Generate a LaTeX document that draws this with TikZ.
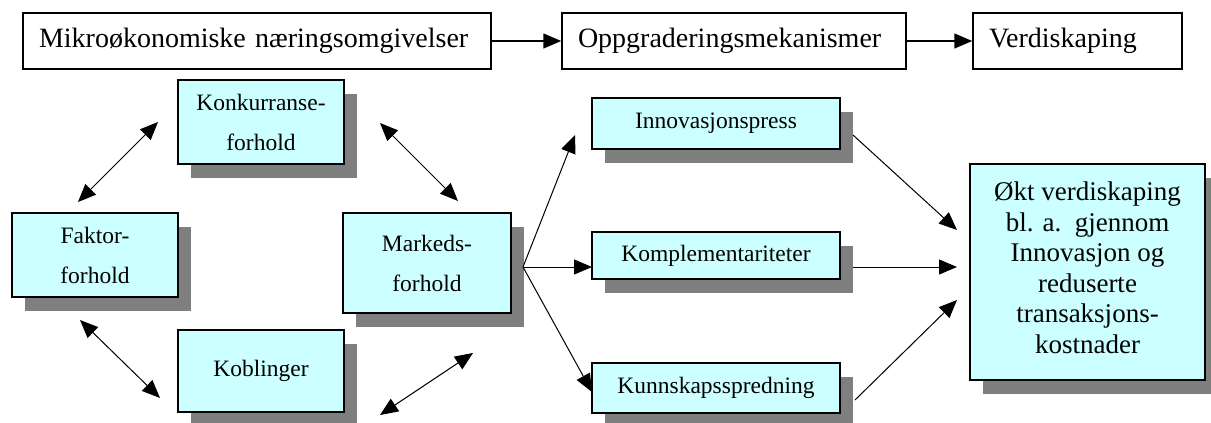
\documentclass[tikz,border=0pt]{standalone}
\usepackage{fontspec}
\setmainfont{Liberation Serif}
\usetikzlibrary{arrows.meta,shadows}
\definecolor{boxfill}{HTML}{CCFFFF}
\definecolor{shadowgray}{HTML}{7F7F7F}
\begin{document}
\begin{tikzpicture}[x=1pt,y=-1pt,
  topbox/.style={draw=black, line width=1.5pt, fill=white, inner ysep=0pt, inner xsep=16pt,
     align=left, minimum height=56pt, font=\fontsize{28}{30}\selectfont},
  cbox/.style={draw=black, line width=1.4pt, fill=boxfill, inner sep=0pt, align=center,
     font=\fontsize{23.5}{40}\selectfont,
     drop shadow={shadow xshift=13pt, shadow yshift=-14pt, opacity=1, fill=shadowgray}},
  bigbox/.style={cbox, font=\fontsize{27}{30.6}\selectfont},
  toparrow/.style={line width=1.5pt, -{Triangle[length=18pt,width=15pt]}},
  dblarrow/.style={line width=1pt, {Triangle[length=18pt,width=15pt]}-{Triangle[length=18pt,width=15pt]}},
  onearrow/.style={line width=1pt, -{Triangle[length=18pt,width=15pt]}}
]
\useasboundingbox (0,0) rectangle (1211,423);
\clip (0,0) rectangle (1211,423);
\fill[white] (0,0) rectangle (1211,423);

% top row
\node[topbox, text width=436pt] (mik) at (257,41) {Mikroøkonomiske næringsomgivelser};
\node[topbox, text width=312pt] (opp) at (734,41) {Oppgraderingsmekanismer};
\node[topbox, text width=177pt] (ver) at (1077.5,41) {Verdiskaping};
\draw[toparrow] (mik) -- (opp);
\draw[toparrow] (opp) -- (ver);

% left cluster
\node[cbox, minimum width=166pt, minimum height=84pt] (kon) at (261,122) {Konkurranse-\\forhold};
\node[cbox, minimum width=166pt, minimum height=84pt] (fak) at (95,255) {Faktor-\\forhold};
\node[cbox, minimum width=168pt, minimum height=100pt] (mar) at (427,263) {Markeds-\\forhold};
\node[cbox, minimum width=166pt, minimum height=82pt] (kob) at (261,371) {Koblinger};

% mechanisms
\node[cbox, minimum width=248pt, minimum height=51pt] (inn) at (716,123.5) {Innovasjonspress};
\node[cbox, minimum width=248pt, minimum height=47pt] (kom) at (716,255.5) {Komplementariteter};
\node[cbox, minimum width=248pt, minimum height=50pt] (kun) at (716,388) {Kunnskapsspredning};

% result
\node[bigbox, minimum width=235pt, minimum height=216pt] (okt) at (1087.5,272)
  {Økt verdiskaping\\bl. a.\ \ gjennom\\Innovasjon og\\reduserte\\transaksjons-\\kostnader\\[-22pt]\mbox{}};

% arrow end points
\coordinate (a1s) at (78,202);   \coordinate (a1e) at (158,122);
\coordinate (a2s) at (380,123);  \coordinate (a2e) at (458,201);
\coordinate (a3s) at (80,320);   \coordinate (a3e) at (160,398);
\coordinate (a4s) at (380,415);  \coordinate (a4e) at (473,353);
\coordinate (fo) at (523,267);
\coordinate (fi) at (575,135);
\coordinate (fk) at (592,267);
\coordinate (fu) at (592,392);
\coordinate (oi) at (853,135);  \coordinate (ti) at (957,230);
\coordinate (ok) at (853,267);  \coordinate (tk) at (957,267);
\coordinate (ou) at (855,400);  \coordinate (tu) at (957,300);

\draw[dblarrow] (a1s) -- (a1e);
\draw[dblarrow] (a2s) -- (a2e);
\draw[dblarrow] (a3s) -- (a3e);
\draw[dblarrow] (a4s) -- (a4e);

\draw[onearrow] (fo) -- (fi);
\draw[onearrow] (fo) -- (fk);
\draw[onearrow] (fo) -- (fu);
\draw[onearrow] (oi) -- (ti);
\draw[onearrow] (ok) -- (tk);
\draw[onearrow] (ou) -- (tu);
\end{tikzpicture}
\end{document}
